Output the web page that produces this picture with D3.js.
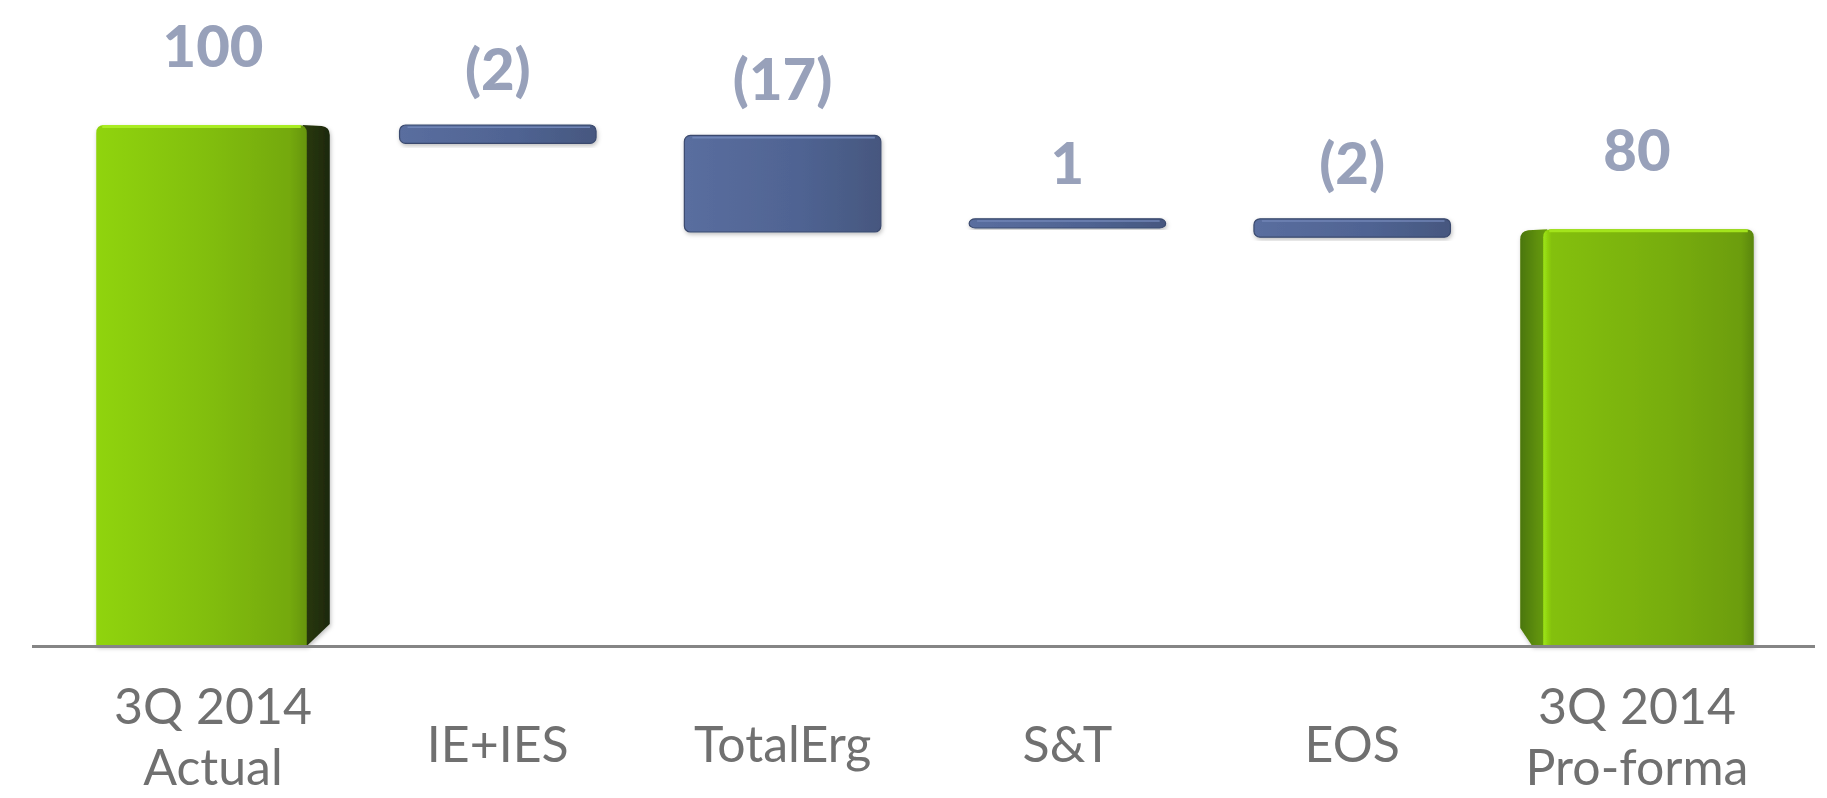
<!DOCTYPE html>
<html>
<head>
<meta charset="utf-8">
<script src="https://cdn.jsdelivr.net/npm/d3@7"></script>
<style>
  html, body { margin: 0; padding: 0; background: #ffffff; }
  svg { display: block; }
</style>
</head>
<body>
<svg id="chart" width="1827" height="798"></svg>
<script>
// Bridge from 3Q 2014 actual to pro-forma
const categories = ["3Q 2014\nActual", "IE+IES", "TotalErg", "S&T", "EOS", "3Q 2014\nPro-forma"];
const values = [100, -2, -17, 1, -2, 80];
const kinds = ["total", "delta", "delta", "delta", "delta", "total"];
const valueLabels = ["100", "(2)", "(17)", "1", "(2)", "80"];

const W = 1827, H = 798;
const svg = d3.select("#chart");

const x = d3.scaleBand().domain(categories).range([70.6, 1779.4]).padding(0);
const y = d3.scaleLinear().domain([0, 100]).range([646, 125]);
const bw = x.bandwidth();

// running totals for the floating bars
let running = 0;
const bars = values.map((v, i) => {
  let lo, hi;
  if (kinds[i] === "total") { lo = 0; hi = v; running = v; }
  else { const s = running; running += v; lo = Math.min(s, running); hi = Math.max(s, running); }
  return { cat: categories[i], value: v, kind: kinds[i], lo, hi, label: valueLabels[i], i };
});

const defs = svg.append("defs");
const grad = (id, stops, x2 = "100%", y2 = "0%") => {
  const g = defs.append("linearGradient").attr("id", id)
    .attr("x1", "0%").attr("y1", "0%").attr("x2", x2).attr("y2", y2);
  stops.forEach(([o, c]) => g.append("stop").attr("offset", o).attr("stop-color", c));
};
grad("greenFront", [["0%", "#90d40c"], ["55%", "#81bd0e"], ["92%", "#74a90f"], ["100%", "#66950f"]]);
grad("greenFrontR", [["0%", "#9de614"], ["4%", "#84c00d"], ["60%", "#77ad0c"], ["94%", "#6c9d0b"], ["100%", "#5a8609"]]);
grad("greenSideDark", [["0%", "#2a3a0e"], ["100%", "#1d280a"]]);
grad("greenSideLeft", [["0%", "#4b7607"], ["100%", "#6a9f0a"]]);
grad("blueFront", [["0%", "#5a6e9f"], ["60%", "#4f6392"], ["100%", "#46577f"]]);

const shadow = defs.append("filter").attr("id", "soft").attr("x", "-10%").attr("y", "-10%")
  .attr("width", "120%").attr("height", "130%");
shadow.append("feDropShadow").attr("dx", 1).attr("dy", 2).attr("stdDeviation", 2)
  .attr("flood-color", "#000").attr("flood-opacity", 0.25);

// rounded-top rectangle path
function topRounded(x0, y0, w, h, r) {
  return `M${x0},${y0 + h} L${x0},${y0 + r} Q${x0},${y0} ${x0 + r},${y0} L${x0 + w - r},${y0} Q${x0 + w},${y0} ${x0 + w},${y0 + r} L${x0 + w},${y0 + h} Z`;
}

const g = svg.append("g");

// total bars with a visible side face
const totalW = bw * 0.82, sideW = 23;
const totals = bars.filter(d => d.kind === "total");
totals.forEach(d => {
  const cx = x(d.cat) + bw / 2;
  const x0 = cx - totalW / 2;
  const top = y(d.hi), base = y(d.lo);
  const bg = g.append("g").attr("filter", "url(#soft)");
  if (d.i === 0) {
    const fw = totalW - sideW;
    bg.append("path")
      .attr("d", `M${x0 + fw - 4},${base} L${x0 + fw - 4},${top} L${x0 + totalW - 8},${top + 1} Q${x0 + totalW},${top + 2} ${x0 + totalW},${top + 10} L${x0 + totalW},${base - 22} L${x0 + fw},${base} Z`)
      .attr("fill", "url(#greenSideDark)");
    bg.append("path").attr("d", topRounded(x0, top, fw, base - top, 8)).attr("fill", "url(#greenFront)");
    bg.append("path").attr("d", `M${x0 + 6},${top + 1.5} L${x0 + fw - 6},${top + 1.5}`)
      .attr("stroke", "#a9ec22").attr("stroke-width", 3);
  } else {
    const fx = x0 + sideW;
    const fw = totalW - sideW;
    bg.append("path")
      .attr("d", `M${x0},${base - 18} L${x0},${top + 10} Q${x0},${top + 2} ${x0 + 8},${top + 1} L${fx + 4},${top} L${fx + 4},${base} L${x0 + 12},${base} Z`)
      .attr("fill", "url(#greenSideLeft)");
    bg.append("path").attr("d", topRounded(fx, top, fw, base - top, 8)).attr("fill", "url(#greenFrontR)");
    bg.append("path").attr("d", `M${fx + 6},${top + 1.5} L${fx + fw - 6},${top + 1.5}`)
      .attr("stroke", "#a3e41e").attr("stroke-width", 3);
  }
});

// floating change bars
const deltaW = bw * 0.69, depth = 8;
g.selectAll("g.delta").data(bars.filter(d => d.kind === "delta")).join("g")
  .attr("class", "delta")
  .attr("filter", "url(#soft)")
  .each(function (d) {
    const sel = d3.select(this);
    const cx = x(d.cat) + bw / 2;
    const x0 = cx - deltaW / 2;
    const thick = d.value > 0 ? depth / 2 : depth;
    const top = y(d.hi), bottom = y(d.lo) + thick;
    sel.append("rect")
      .attr("x", x0).attr("y", top).attr("width", deltaW).attr("height", bottom - top)
      .attr("rx", 6).attr("ry", 6)
      .attr("fill", "url(#blueFront)").attr("stroke", "#3b4a6e").attr("stroke-width", 1.2);
    sel.append("line")
      .attr("x1", x0 + 8).attr("x2", x0 + deltaW - 6)
      .attr("y1", top + 2.2).attr("y2", top + 2.2)
      .attr("stroke", "#7085b6").attr("stroke-width", 1.6);
  });

// category axis
const baseY = y(0);
svg.append("line")
  .attr("x1", 32).attr("x2", 1815).attr("y1", baseY + 0.5).attr("y2", baseY + 0.5)
  .attr("stroke", "#858585").attr("stroke-width", 3);

const axis = svg.append("g").attr("transform", `translate(0,${baseY})`)
  .call(d3.axisBottom(x).tickSize(0).tickFormat(""));
axis.select(".domain").remove();
axis.selectAll(".tick").each(function (d) {
  const lines = d.split("\n");
  const t = d3.select(this).append("text")
    .attr("text-anchor", "middle")
    .attr("font-family", "Lato, 'Open Sans', sans-serif")
    .attr("font-size", 50)
    .attr("fill", "#707070");
  const firstBase = lines.length === 1 ? 116 : 78;
  lines.forEach((ln, k) => {
    t.append("tspan").attr("x", 0).attr("y", firstBase + k * 61).text(ln);
  });
});

// value labels
svg.selectAll("text.val").data(bars).join("text")
  .attr("class", "val")
  .attr("x", d => x(d.cat) + bw / 2)
  .attr("y", d => y(d.hi) - (d.kind === "total" ? 58 : 35))
  .attr("text-anchor", "middle")
  .attr("font-family", "Lato, 'Open Sans', sans-serif")
  .attr("font-weight", 900)
  .attr("font-size", 58)
  .attr("fill", "#98a1ba")
  .text(d => d.label);
</script>
</body>
</html>
